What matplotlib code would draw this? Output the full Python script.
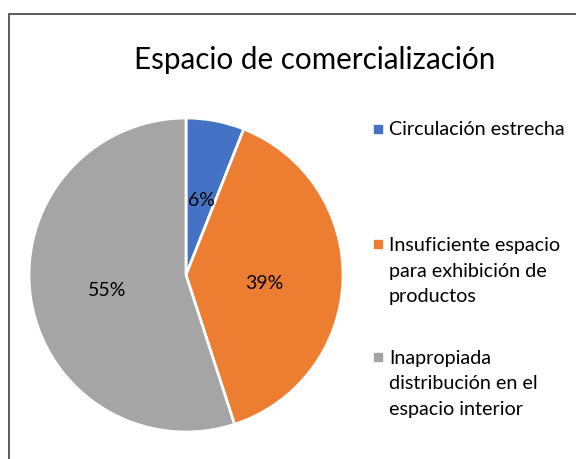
import matplotlib.pyplot as plt
from matplotlib.patches import Rectangle

plt.rcParams['font.family'] = ['Lato', 'DejaVu Sans']

# data
categories = ['Circulación estrecha',
              'Insuficiente espacio\npara exhibición de\nproductos',
              'Inapropiada\ndistribución en el\nespacio interior']
values = [6, 39, 55]
colors = ['#4472C4', '#ED7D31', '#A5A5A5']
title = 'Espacio de comercialización'

W, H = 576, 460
fig = plt.figure(figsize=(W / 100, H / 100), dpi=100)

# chart border (cut off at right and bottom)
fig.patches.append(Rectangle((9 / W, -0.1), 1.2, 1 - 15 / H + 0.1,
                             transform=fig.transFigure, fill=False,
                             edgecolor='#404040', linewidth=1.2))

# pie, centre ~(186, 276) px, radius ~157 px
cx, cy, r = 186, 276, 157
ax = fig.add_axes([(cx - r) / W, (H - cy - r) / H, 2 * r / W, 2 * r / H])
wedges, texts, autotexts = ax.pie(
    values, colors=colors, startangle=90, counterclock=False,
    autopct='%1.0f%%', pctdistance=0.6,
    wedgeprops=dict(edgecolor='white', linewidth=2))
for t in autotexts:
    t.set_fontsize(14)
    t.set_color('black')
# move labels like Excel does
autotexts[0].set_position((0.1, 0.48))
autotexts[1].set_position((0.5, -0.05))
autotexts[2].set_position((-0.5, -0.09))
ax.set_xlim(-1, 1)
ax.set_ylim(-1, 1)
ax.set_aspect('equal')

fig.text(315 / W, 1 - 60 / H, title, ha='center', va='center',
         fontsize=21.3, color='black')

# legend
legend_y = [130, 271, 384]
for y, lab, c in zip(legend_y, categories, colors):
    n = lab.count('\n')
    top = y - n * 13
    fig.patches.append(Rectangle((374 / W, 1 - (top + 4) / H), 8 / W, 8 / H,
                                 transform=fig.transFigure, color=c))
    fig.text(389 / W, 1 - y / H, lab, ha='left', va='center',
             fontsize=14.2, color='black', linespacing=1.6)

fig.savefig('out.png', dpi=100)
